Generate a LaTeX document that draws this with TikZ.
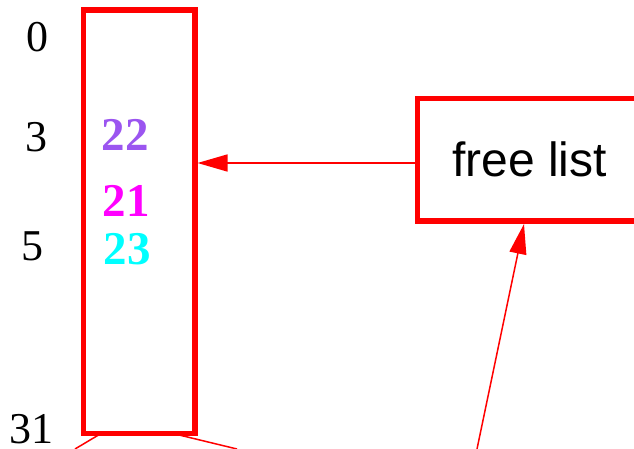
\documentclass[tikz,border=0pt]{standalone}
\usepackage{fontspec}
\setmainfont{Liberation Serif}
\newfontfamily\labelsans{Liberation Sans}
\usetikzlibrary{arrows.meta}
\definecolor{cpurple}{RGB}{155,85,240}
\definecolor{cmag}{RGB}{255,0,255}
\definecolor{ccyan}{RGB}{0,255,255}
\tikzset{
  boxline/.style={draw=red, line width=5.5pt, outer sep=0pt, inner sep=0pt},
  link/.style={draw=red, line width=1.5pt},
  ptr/.style={link, -{Triangle[length=30pt,width=17pt]}},
  idx/.style={inner sep=0pt, font=\fontsize{44}{44}\selectfont},
  slot/.style={inner sep=0pt, font=\fontsize{47}{47}\selectfont\bfseries},
}
\begin{document}
\begin{tikzpicture}[x=1pt,y=-1pt]
\useasboundingbox (0,0) rectangle (634,449);
\clip (0,0) rectangle (634,449);
% memory column
\node[boxline, anchor=north west, minimum width=111.5pt, minimum height=423.5pt] (col) at (83.5,10) {};
\coordinate (colE) at (197.5,163);
\coordinate (colBL) at (101,433.5);
\coordinate (colBR) at (173,433.5);
% free list box
\node[boxline, anchor=north west, minimum width=260pt, minimum height=122.5pt] (fl) at (417.5,98.5) {};
\node[inner sep=0pt, font=\labelsans\fontsize{48}{48}\selectfont] (fltext) at (529.5,159.5) {free list};
\coordinate (flW) at (415,163);
\coordinate (flB) at (524,224);
% indices
\node[idx] (i0) at (37,37.5) {0};
\node[idx] (i3) at (36,137) {3};
\node[idx] (i5) at (32,246) {5};
\node[idx] (i31) at (31.5,429) {31};
% slot contents
\node[slot, text=cpurple] (s22) at (125,135) {22};
\node[slot, text=cmag] (s21) at (126,201) {21};
\node[slot, text=ccyan] (s23) at (127,249) {23};
% connectors
\coordinate (offA) at (75,449);
\coordinate (offB) at (237,449);
\coordinate (offC) at (477,449);
\draw[ptr] (flW) -- (colE);
\draw[ptr] (offC) -- (flB);
\draw[link] (colBL) -- (offA);
\draw[link] (colBR) -- (offB);
\end{tikzpicture}
\end{document}
